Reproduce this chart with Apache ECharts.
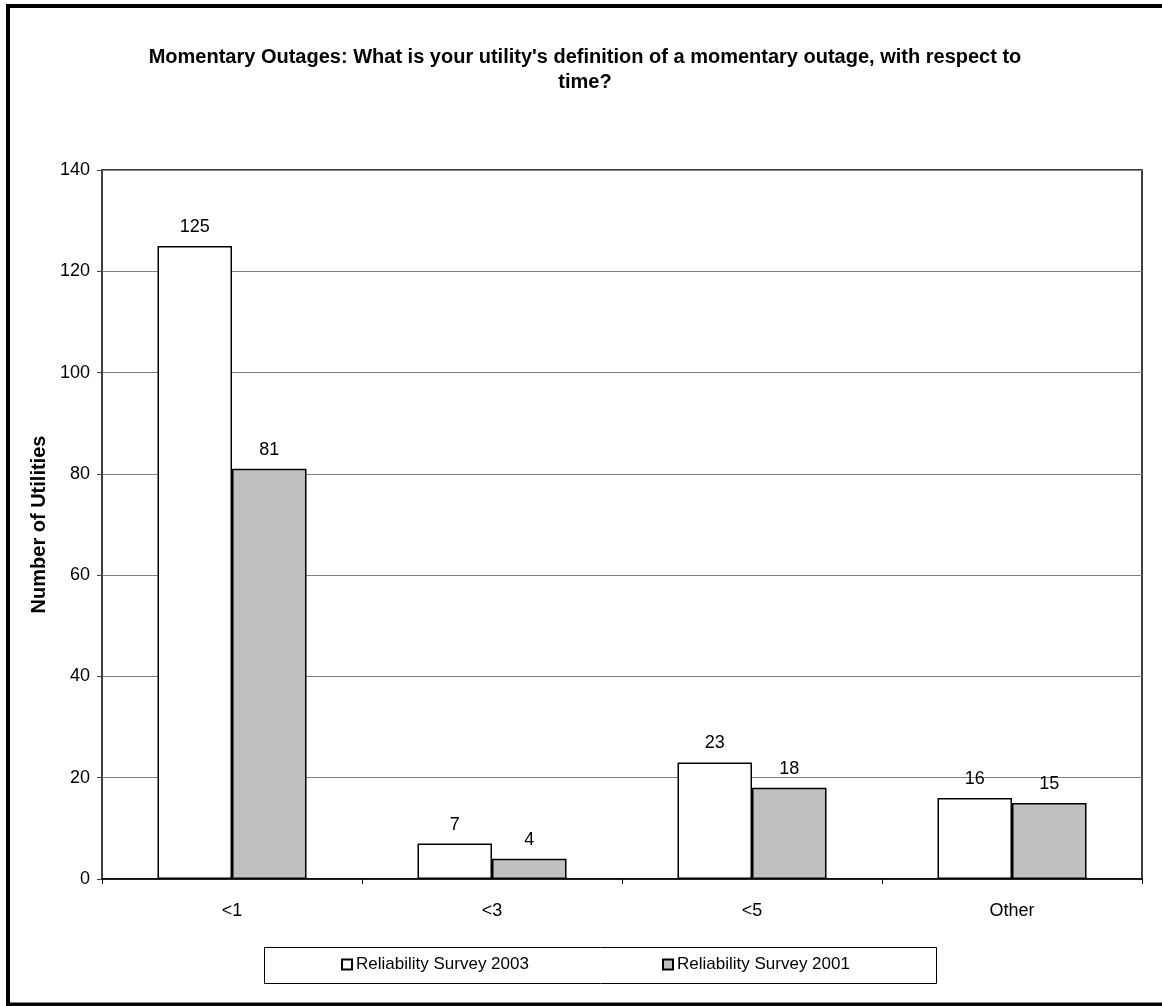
<!DOCTYPE html>
<html>
<head>
<meta charset="utf-8">
<script src="https://cdn.jsdelivr.net/npm/echarts@6/dist/echarts.min.js"></script>
<style>
  html, body { margin: 0; padding: 0; background: #fff; }
  #chart { width: 1162px; height: 1006px; }
</style>
</head>
<body>
<div id="chart"></div>
<script>
// Survey responses: definition of a momentary outage (time)
const categories = ['<1', '<3', '<5', 'Other'];
const survey2003 = [125, 7, 23, 16];
const survey2001 = [81, 4, 18, 15];
const seriesNames = ['Reliability Survey 2003', 'Reliability Survey 2001'];
const yTicks = { min: 0, max: 140, interval: 20 };

const FONT = '"Liberation Sans", Arial, sans-serif';

const chart = echarts.init(document.getElementById('chart'), null, { renderer: 'canvas' });

const labelStyle = {
  show: true,
  position: 'top',
  distance: 10,
  color: '#000',
  fontFamily: FONT,
  fontSize: 18
};

const legendText = { fontFamily: FONT, fontSize: 17, color: '#000', padding: [0, 0, 0, -1] };

chart.setOption({
  animation: false,
  backgroundColor: '#fff',
  title: {
    text: "Momentary Outages: What is your utility's definition of a momentary outage, with respect to\ntime?",
    left: 580,
    textAlign: 'center',
    top: 40,
    textStyle: {
      fontFamily: FONT,
      fontWeight: 'bold',
      fontSize: 20,
      lineHeight: 25,
      color: '#000'
    }
  },
  legend: [
    {
      data: [seriesNames[0]],
      left: 341,
      top: 956,
      icon: 'rect',
      itemWidth: 10,
      itemHeight: 10,
      padding: 0,
      textStyle: legendText
    },
    {
      data: [seriesNames[1]],
      left: 662,
      top: 956,
      icon: 'rect',
      itemWidth: 10,
      itemHeight: 10,
      padding: 0,
      textStyle: legendText
    }
  ],
  grid: {
    left: 102,
    right: 20,
    top: 170,
    bottom: 127,
    show: true,
    borderColor: '#000',
    borderWidth: 1.5,
    backgroundColor: 'transparent'
  },
  xAxis: {
    type: 'category',
    data: categories,
    boundaryGap: true,
    axisLine: { show: true, lineStyle: { color: '#000', width: 1.5 } },
    axisTick: { show: true, alignWithLabel: false, length: 5, lineStyle: { color: '#000', width: 1 } },
    axisLabel: { color: '#000', fontFamily: FONT, fontSize: 18, margin: 23 }
  },
  yAxis: {
    type: 'value',
    min: yTicks.min,
    max: yTicks.max,
    interval: yTicks.interval,
    name: 'Number of Utilities',
    nameLocation: 'middle',
    nameGap: 48,
    nameTextStyle: {
      fontFamily: FONT,
      fontWeight: 'bold',
      fontSize: 20,
      color: '#000'
    },
    axisLine: { show: true, lineStyle: { color: '#444', width: 1.5 } },
    axisTick: { show: true, length: 5, lineStyle: { color: '#444', width: 1 } },
    axisLabel: { color: '#000', fontFamily: FONT, fontSize: 18, margin: 12 },
    splitLine: { show: true, lineStyle: { color: '#808080', width: 1 } }
  },
  series: [
    {
      name: seriesNames[0],
      type: 'bar',
      data: survey2003,
      barWidth: 74.5,
      barGap: '0%',
      itemStyle: { color: '#ffffff', borderColor: '#000', borderWidth: 1.5 },
      label: labelStyle
    },
    {
      name: seriesNames[1],
      type: 'bar',
      data: survey2001,
      barWidth: 74.5,
      barGap: '0%',
      itemStyle: { color: '#c0c0c0', borderColor: '#000', borderWidth: 1.5 },
      label: labelStyle
    }
  ],
  graphic: [
    {
      type: 'rect',
      shape: { x: 8, y: 6, width: 1170, height: 998.5 },
      style: { fill: 'none', stroke: '#000', lineWidth: 4 },
      silent: true
    },
    {
      type: 'rect',
      shape: { x: 264.5, y: 947.5, width: 672, height: 36 },
      style: { fill: 'none', stroke: '#000', lineWidth: 1 },
      silent: true,
      z: -1
    }
  ]
});
</script>
</body>
</html>
